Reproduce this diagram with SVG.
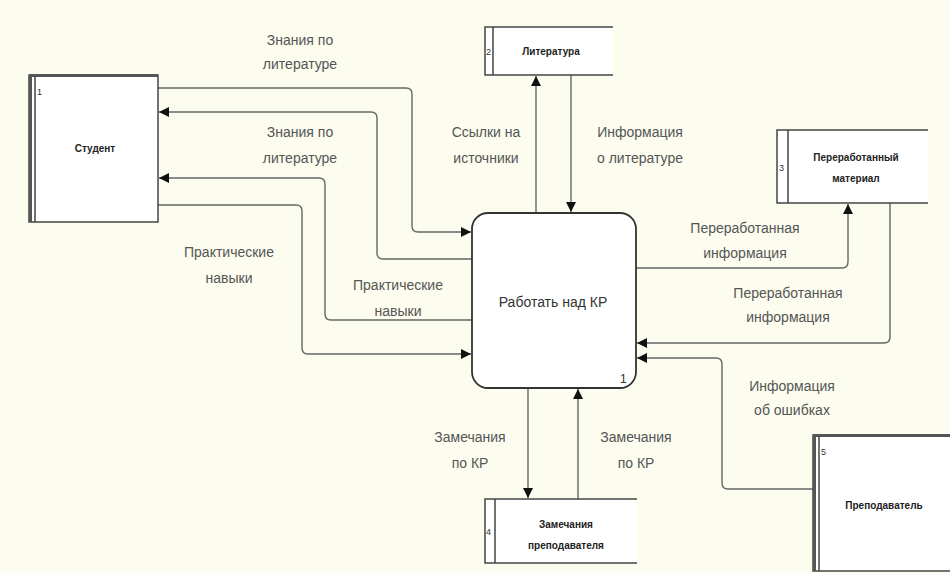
<svg xmlns="http://www.w3.org/2000/svg" width="950" height="573" viewBox="0 0 950 573">
<defs>
<marker id="ah" viewBox="0 0 10 10" refX="10" refY="5" markerWidth="10" markerHeight="10" markerUnits="userSpaceOnUse" orient="auto">
<path d="M0,0 L10,5 L0,10 z" fill="#111"/>
</marker>
<style>
.bg{fill:#fcfcef}
.box{fill:#fff;stroke:#444;stroke-width:1.5}
.edge{stroke:#444;stroke-width:1.5;fill:none}
.thick{stroke:#555;stroke-width:3;fill:none}
.con{fill:none;stroke:#666;stroke-width:1.4;marker-end:url(#ah)}
.lbl{font-family:"Liberation Sans",Arial,sans-serif;font-size:14px;fill:#555;text-anchor:middle}
.ttl{font-family:"Liberation Sans",Arial,sans-serif;font-size:10px;font-weight:bold;fill:#222;text-anchor:middle}
.num{font-family:"Liberation Sans",Arial,sans-serif;font-size:9px;fill:#333}
.pnum{font-family:"Liberation Sans",Arial,sans-serif;font-size:12px;fill:#333}
.proc{fill:#fff;stroke:#333;stroke-width:1.8}
</style>
</defs>
<rect class="bg" x="0" y="0" width="950" height="573"/>

<g id="connectors">
<path class="con" d="M158,88 H406 Q412,88 412,94 V226 Q412,232 418,232 H471"/>
<path class="con" d="M472,259 H383 Q377,259 377,253 V118 Q377,112 371,112 H159"/>
<path class="con" d="M472,320 H331 Q325,320 325,314 V184 Q325,178 319,178 H159"/>
<path class="con" d="M158,205 H296 Q302,205 302,211 V348 Q302,354 308,354 H471"/>
<path class="con" d="M536,213 V76"/>
<path class="con" d="M571,75 V212"/>
<path class="con" d="M636,268 H842 Q848,268 848,262 V204"/>
<path class="con" d="M890,203 V337 Q890,343 884,343 H637"/>
<path class="con" d="M813,489 H728 Q722,489 722,483 V364 Q722,358 716,358 H637"/>
<path class="con" d="M528,388 V498"/>
<path class="con" d="M578,499 V389"/>
</g>

<g id="labels">
<text class="lbl" x="300" y="45">Знания по</text>
<text class="lbl" x="300" y="69">литературе</text>
<text class="lbl" x="300" y="137">Знания по</text>
<text class="lbl" x="300" y="163">литературе</text>
<text class="lbl" x="229" y="257">Практические</text>
<text class="lbl" x="229" y="283">навыки</text>
<text class="lbl" x="398" y="290">Практические</text>
<text class="lbl" x="398" y="316">навыки</text>
<text class="lbl" x="486" y="137">Ссылки на</text>
<text class="lbl" x="486" y="163">источники</text>
<text class="lbl" x="640" y="137">Информация</text>
<text class="lbl" x="640" y="163">о литературе</text>
<text class="lbl" x="745" y="233">Переработанная</text>
<text class="lbl" x="745" y="258">информация</text>
<text class="lbl" x="788" y="298">Переработанная</text>
<text class="lbl" x="788" y="322">информация</text>
<text class="lbl" x="792" y="391">Информация</text>
<text class="lbl" x="792" y="415">об ошибках</text>
<text class="lbl" x="470" y="442">Замечания</text>
<text class="lbl" x="470" y="468">по КР</text>
<text class="lbl" x="636" y="442">Замечания</text>
<text class="lbl" x="636" y="468">по КР</text>
</g>

<g id="student">
<rect class="box" x="29" y="75" width="129" height="147"/>
<line class="thick" x1="30" y1="75.5" x2="158" y2="75.5"/>
<line class="thick" x1="30.5" y1="75" x2="30.5" y2="222"/>
<line class="edge" x1="35" y1="76" x2="35" y2="222"/>
<text class="num" x="37" y="95">1</text>
<text class="ttl" x="95" y="152">Студент</text>
</g>

<g id="literature">
<rect x="485" y="27" width="128" height="48" fill="#fff"/>
<path class="edge" d="M613,27 H485 V75 H613"/>
<line class="edge" x1="493" y1="27" x2="493" y2="75"/>
<text class="num" x="486" y="55">2</text>
<text class="ttl" x="551" y="55">Литература</text>
</g>

<g id="material">
<rect x="777" y="130" width="151" height="73" fill="#fff"/>
<path class="edge" d="M928,130 H777 V203 H928"/>
<line class="edge" x1="788" y1="130" x2="788" y2="203"/>
<text class="num" x="779" y="171">3</text>
<text class="ttl" x="856" y="161">Переработанный</text>
<text class="ttl" x="856" y="182">материал</text>
</g>

<g id="process">
<rect class="proc" x="472" y="213" width="164" height="175" rx="16" ry="16"/>
<text class="lbl" x="553" y="307" style="fill:#333;font-size:14px">Работать над КР</text>
<text class="pnum" x="620" y="383">1</text>
</g>

<g id="remarks">
<rect x="485" y="499" width="152" height="64" fill="#fff"/>
<path class="edge" d="M637,499 H485 V563 H637"/>
<line class="edge" x1="495" y1="499" x2="495" y2="563"/>
<text class="num" x="486" y="535">4</text>
<text class="ttl" x="566" y="528">Замечания</text>
<text class="ttl" x="566" y="549">преподавателя</text>
</g>

<g id="teacher">
<rect class="box" x="813" y="435" width="150" height="136"/>
<line class="thick" x1="813" y1="435.5" x2="950" y2="435.5"/>
<line class="thick" x1="814.5" y1="435" x2="814.5" y2="571"/>
<line class="edge" x1="819" y1="436" x2="819" y2="571"/>
<text class="num" x="821" y="455">5</text>
<text class="ttl" x="884" y="509">Преподаватель</text>
</g>
</svg>
